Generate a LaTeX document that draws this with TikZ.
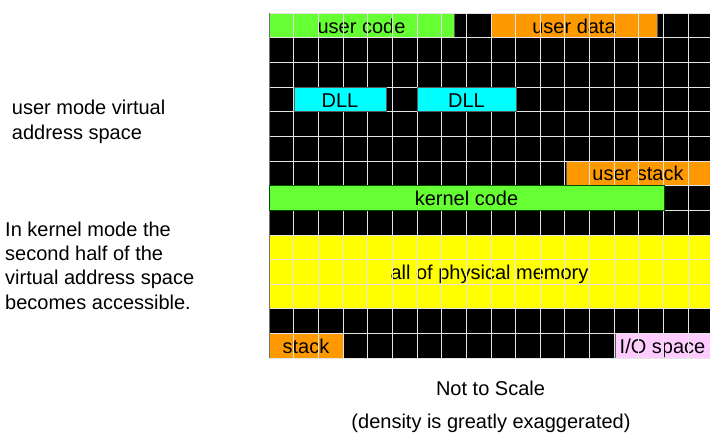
\documentclass[tikz,border=0pt]{standalone}
\usepackage{fontspec}
\setmainfont{Liberation Sans}
\definecolor{ugreen}{HTML}{66FF33}
\definecolor{uorange}{HTML}{FF9900}
\definecolor{ucyan}{HTML}{00FFFF}
\definecolor{uyellow}{HTML}{FFFF00}
\definecolor{upink}{HTML}{FFCCFF}
\begin{document}
\begin{tikzpicture}[x=1pt,y=-1pt,
  cellbox/.style={draw=black!65, line width=0.6pt, inner sep=0pt,
    text height=15.5pt, text depth=0pt, font=\fontsize{20}{24}\selectfont, anchor=center},
  gridline/.style={white!90!black, line width=0.7pt},
  lbl/.style={font=\fontsize{20}{24.4}\selectfont, inner sep=0pt, align=left}]
\useasboundingbox (0,0) rectangle (710,433);
% black background of the grid
\fill[black] (269,13) rectangle (710,358.1);
% regions under the grid
\node[cellbox, fill=ugreen, minimum width=185pt, minimum height=24.65pt] (ucode) at (361.5,25.33) {user code};
\node[cellbox, fill=uorange, minimum width=166pt, minimum height=24.65pt] (udata) at (574,25.33) {user data};
\node[cellbox, fill=uorange, minimum width=144pt, minimum height=24.65pt] (ustack) at (638,173.2) {user stack};
\node[cellbox, fill=uyellow, draw=none, minimum width=441pt, minimum height=73.95pt] (phys) at (489.5,271.8) {all of physical memory};
\node[cellbox, fill=uorange, minimum width=74pt, minimum height=24.65pt] (kstack) at (306,345.8) {stack};
\node[cellbox, fill=upink, minimum width=95pt, minimum height=24.65pt] (io) at (662.5,345.8) {I/O space};
% grid
\foreach \k in {0,...,17} \draw[gridline] ({269+\k*24.65},13) -- ({269+\k*24.65},358.1);
\foreach \k in {0,...,14} \draw[gridline] (269,{13+\k*24.65}) -- (710,{13+\k*24.65});
\draw[black!55, line width=0.7pt] (269,13) -- (269,358.1);
% regions over the grid
\node[cellbox, fill=ucyan, minimum width=92pt, minimum height=24.65pt] (dll1) at (340,99.28) {DLL};
\node[cellbox, fill=ucyan, minimum width=99pt, minimum height=24.65pt] (dll2) at (466.5,99.28) {DLL};
\node[cellbox, fill=ugreen, draw=black!70!green, minimum width=395pt, minimum height=24.65pt] (kcode) at (466.5,197.9) {kernel code};
% side and bottom texts (base anchor = baseline of last line)
\node[lbl, anchor=base west] (umode) at (11.7,139.4) {user mode virtual\\address space};
\node[lbl, anchor=base west] (kmode) at (5,309.2) {In kernel mode the\\second half of the\\virtual address space\\becomes accessible.};
\node[lbl, anchor=base] (nts) at (490.5,395) {Not to Scale};
\node[lbl, anchor=base] (dens) at (491,428) {(density is greatly exaggerated)};
\end{tikzpicture}
\end{document}
